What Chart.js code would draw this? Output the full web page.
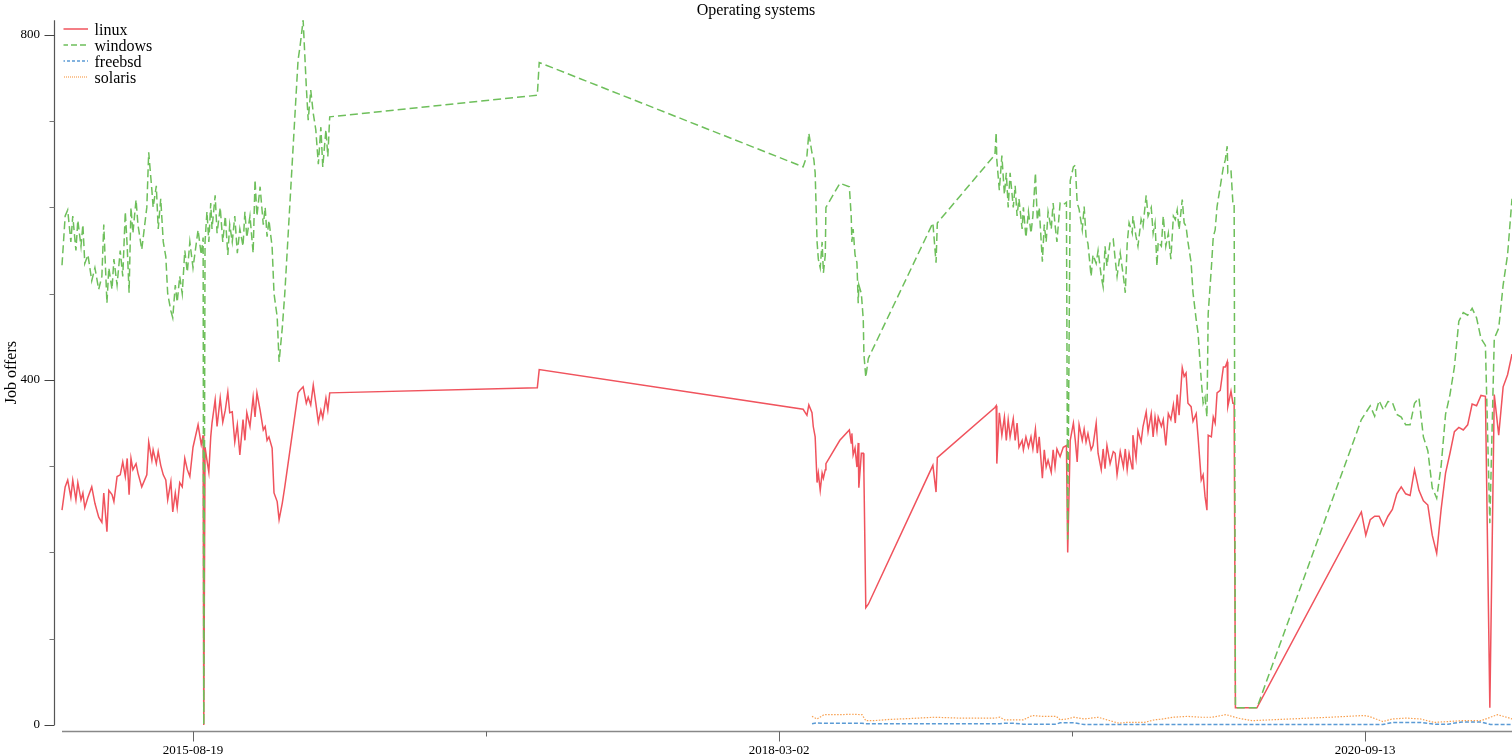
<!DOCTYPE html>
<html>
<head>
<meta charset="utf-8">
<script src="https://cdn.jsdelivr.net/npm/chart.js@4/dist/chart.umd.min.js"></script>
<style>
html,body{margin:0;padding:0;background:#fff;}
#c{display:block;}
</style>
</head>
<body>
<canvas id="c" width="1512" height="756"></canvas>
<script>
// Dates are stored as day offsets from 2015-08-19
const BASE_DATE = Date.UTC(2015, 7, 19);

const days = [
-207,-202,-198,-193,-190,-185,-182,-177,-174,-171,
-166,-160,-155,-149,-144,-141,-136,-133,-128,-125,
-120,-115,-111,-107,-104,-101,-98,-95,-90,-87,
-81,-73,-70,-65,-63,-58,-55,-51,-47,-43,
-40,-35,-32,-28,-25,-21,-17,-13,-9,-5,
0,8,13,16,17,19,22,25,28,30,
35,38,43,47,51,55,58,62,66,70,
74,79,82,85,90,95,98,101,106,111,
114,117,120,125,128,133,136,141,145,166,
169,174,179,182,186,190,194,198,202,205,
210,213,216,544,547,
964,970,973,978,980,981,983,986,988,991,
994,996,999,1000,1022,1037,1040,1041,1043,1046,
1049,1051,1052,1056,1059,1060,1063,1067,1169,1174,
1176,1267,1269,
1270,1274,1278,1282,1285,1288,1291,1296,1299,1302,
1305,1310,1312,1316,1320,1324,1327,1331,1334,1337,
1342,1345,1348,1351,1356,1359,1362,1365,1370,1375,
1380,1382,1386,1391,1394,1397,1400,1405,1408,1411,
1414,1419,1422,1427,1430,1435,1438,1441,1444,1449,
1454,1457,1460,1465,1470,1473,1476,1479,1484,1485,
1490,1493,1498,1501,1506,1509,1514,1517,1520,1523,
1525,1530,1533,1537,1541,1545,1549,1552,1555,1558,
1563,1566,1569,1572,1577,1580,1585,1588,1593,1596,
1599,1602,1604,1609,1612,1615,1618,1623,1628,1631,
1634,1635,1640,1643,1645,1647,1664,1681,
1846,1853,1860,1867,1874,1881,1888,1895,1902,1909,
1916,1923,1930,1937,1944,1951,1958,1965,1972,1979,
1986,1993,2000,2007,2014,2021,2028,2035,2042,2049,
2056,2063,2070,2077,2084
];

const linux = [
249,276,284,264,284,261,281,261,269,252,
264,276,257,241,235,269,224,272,267,259,
288,290,305,288,309,267,309,296,303,292,
276,290,328,307,319,303,317,301,290,284,
261,282,247,269,252,281,276,309,296,288,
322,348,325,336,0,322,307,293,334,350,
377,346,379,351,365,386,362,363,328,348,
313,354,330,362,346,380,357,385,365,342,
346,330,334,321,269,259,238,257,276,385,
388,392,373,380,371,394,373,351,365,356,
379,365,385,391,412,
366,359,371,362,346,346,334,281,292,272,
292,286,296,303,330,342,327,338,313,321,
299,327,275,315,315,292,136,140,301,270,
310,368,370,
303,362,336,357,330,354,334,355,330,350,
322,330,319,334,322,334,320,343,315,334,
286,319,299,307,293,319,299,320,311,322,
324,200,330,350,330,305,348,330,343,328,
338,319,324,350,315,296,320,297,324,303,
317,315,290,317,299,320,296,315,297,336,
309,341,328,346,363,340,361,334,357,341,
357,346,354,324,361,354,371,350,383,359,
414,404,408,373,369,352,361,334,284,290,
265,249,336,334,357,350,385,388,415,415,
421,369,387,373,373,20,20,20,
247,220,238,242,242,231,242,250,268,276,
268,266,296,272,260,255,220,199,250,292,
315,340,345,342,348,372,370,382,381,20,
383,336,392,406,430
];

const windows = [
533,590,597,560,590,550,585,555,580,535,
545,515,530,505,520,580,489,530,505,540,
510,550,520,595,555,501,600,570,609,580,
551,600,664,620,600,625,575,610,560,543,
500,480,472,510,490,520,500,550,525,560,
530,574,545,565,0,560,595,560,605,575,
614,570,600,560,590,545,580,560,590,547,
575,555,595,565,590,547,632,590,624,580,
600,566,585,554,500,473,421,460,500,771,
786,817,740,701,736,709,690,650,693,647,
690,659,705,730,768,
647,660,686,663,659,655,640,560,540,530,
560,524,545,600,628,624,589,560,575,545,
536,489,510,500,470,430,403,425,582,536,
582,661,687,
655,620,660,615,640,600,640,600,625,590,
610,575,600,565,595,570,590,640,585,600,
537,580,560,595,575,605,580,560,605,603,
606,215,631,647,649,605,598,574,601,566,
558,520,545,535,550,520,508,555,532,560,
563,540,520,547,520,501,558,582,570,590,
566,555,586,578,614,590,600,570,582,532,
560,555,590,555,570,540,590,586,597,574,
609,582,578,560,536,501,470,454,400,373,
380,357,477,530,566,574,601,624,647,655,
671,640,643,605,605,20,20,20,
354,362,370,358,376,365,375,374,360,357,
348,348,373,379,334,318,275,263,300,360,
383,415,468,478,475,483,472,448,440,234,
448,460,510,545,610
];

const bsdDays = [
978,986,997,1007,1024,1041,1057,1063,1075,1101,
1133,1171,1212,1267,1275,1282,1297,1312,1326,1342,
1364,1370,1381,1392,1408,1430,1444,1463,1474,1503,
1519,1533,1549,1571,1593,1610,1632,1651,1673,1703,
1749,1797,1850,1858,1880,1895,1917,1939,1961,1983,
2005,2035,2050,2061,2080,2084
];

const freebsd = [
1.5,2.5,2,2,2,2,2,1.5,1.5,1.5,
1.5,1.5,1.5,1.5,1.5,2,2,1,1,1,
1,2.5,2.5,2.5,0.5,0.5,0.5,0.5,0.5,0.5,
0.5,0.5,0.5,0.5,0.5,0.5,0.5,0.5,0.5,0.5,
0.5,0.5,0.5,0.5,0.5,3,3,3,1,1,
3.5,3.5,0.5,0.5,0.5,0.5
];

const solaris = [
10,7,12,12,12,12.5,12,5,5,6.5,
7.5,9,8,8,9,6,6,6,11,10,
10,6,7,9,7,9,6,2,3,3,
6,7,9,10,9,9,12,8,5,6,
7.5,9,11,10,4,7,8,7,3,4,
5,5,9,12,8,7
];

const xTickDays = [0, 463, 926, 1389, 1852];
const xTickLabelled = [true, false, true, false, true];
const yTicks = [0, 100, 200, 300, 400, 500, 600, 700, 800];
const yTickLabels = [0, 400, 800];

function dayToDate(d) {
  return new Date(BASE_DATE + d * 86400000).toISOString().slice(0, 10);
}
function pts(xs, ys) { return xs.map((x, i) => ({x: x, y: ys[i]})); }

// small legend swatch: a line sample drawn with the series' dash pattern
function swatch(color, dash, width) {
  const c = document.createElement('canvas');
  c.width = 26; c.height = 6;
  const g = c.getContext('2d');
  g.strokeStyle = color; g.lineWidth = width; g.setLineDash(dash);
  g.beginPath(); g.moveTo(0, 1); g.lineTo(26, 1); g.stroke();
  return c;
}

const FONT = "'Liberation Serif', 'DejaVu Serif', 'Times New Roman', serif";
Chart.defaults.font.family = FONT;
Chart.defaults.color = '#000';

const offsetAxes = {
  id: 'offsetAxes',
  afterDraw(chart) {
    const {ctx, chartArea: a} = chart;
    const xs = chart.scales.x, ys = chart.scales.y;
    ctx.save();
    const ax = Math.round(a.left - 8) + 0.5;
    ctx.strokeStyle = '#555';
    ctx.lineWidth = 1.2;
    ctx.beginPath(); ctx.moveTo(ax, a.top); ctx.lineTo(ax, ys.getPixelForValue(0)); ctx.stroke();
    ctx.lineWidth = 1;
    ys.ticks.forEach(t => {
      const py = Math.round(ys.getPixelForValue(t.value)) + 0.5;
      const len = yTickLabels.includes(t.value) ? 10 : 5;
      ctx.strokeStyle = yTickLabels.includes(t.value) ? '#444' : '#777';
      ctx.beginPath(); ctx.moveTo(ax - len, py); ctx.lineTo(ax, py); ctx.stroke();
    });
    const ay = Math.round(a.bottom + 6) + 0.5;
    ctx.strokeStyle = '#888';
    ctx.lineWidth = 1.5;
    ctx.beginPath(); ctx.moveTo(a.left, ay); ctx.lineTo(a.right, ay); ctx.stroke();
    ctx.lineWidth = 1;
    xs.ticks.forEach((t, i) => {
      const px = Math.round(xs.getPixelForValue(t.value)) + 0.5;
      const len = xTickLabelled[i] ? 10 : 5;
      ctx.strokeStyle = '#666';
      ctx.beginPath(); ctx.moveTo(px, ay); ctx.lineTo(px, ay + len); ctx.stroke();
    });
    ctx.restore();
  }
};

const legendPlace = {
  id: 'legendPlace',
  afterLayout(chart) {
    const lg = chart.legend;
    if (!lg) return;
    const dy = Math.round(chart.chartArea.top + 3) - lg.top;
    lg.top += dy; lg.bottom += dy;
    const dx = Math.round(chart.chartArea.left) + 1.5 - lg.left;
    lg.left += dx; lg.right += dx;
  }
};

const COLORS = { linux: '#f0535d', windows: '#6ebf5b', freebsd: '#5b9bd5', solaris: '#f8a050' };

new Chart(document.getElementById('c'), {
  type: 'line',
  data: {
    datasets: [
      { label: 'linux', data: pts(days, linux), borderColor: COLORS.linux, backgroundColor: COLORS.linux,
        borderWidth: 1.5, order: 3, pointStyle: swatch(COLORS.linux, [], 1.5) },
      { label: 'windows', data: pts(days, windows), borderColor: COLORS.windows, backgroundColor: COLORS.windows,
        borderWidth: 1.5, borderDash: [8, 4], order: 2, pointStyle: swatch(COLORS.windows, [6, 3], 1.5) },
      { label: 'freebsd', data: pts(bsdDays, freebsd), borderColor: COLORS.freebsd, backgroundColor: COLORS.freebsd,
        borderWidth: 1.5, borderDash: [4, 2], order: 1, pointStyle: swatch(COLORS.freebsd, [3, 2], 1.5) },
      { label: 'solaris', data: pts(bsdDays, solaris), borderColor: COLORS.solaris, backgroundColor: COLORS.solaris,
        borderWidth: 1.2, borderDash: [1.5, 1.5], order: 0, pointStyle: swatch(COLORS.solaris, [1, 1], 1.2) }
    ]
  },
  options: {
    responsive: false,
    animation: false,
    devicePixelRatio: 1,
    layout: { padding: 0 },
    elements: { point: { radius: 0, hoverRadius: 0 }, line: { tension: 0 } },
    datasets: { line: { spanGaps: true, clip: false } },
    plugins: {
      title: {
        display: true, text: 'Operating systems', color: '#000',
        font: { family: FONT, size: 16, weight: 'normal' },
        padding: { top: 1, bottom: 0 }
      },
      legend: {
        display: true, position: 'chartArea', align: 'start',
        labels: {
          usePointStyle: true, pointStyleWidth: 23,
          padding: 0, color: '#000',
          font: { family: FONT, size: 16 },
          sort: (a, b) => a.datasetIndex - b.datasetIndex
        }
      },
      tooltip: { enabled: false }
    },
    scales: {
      x: {
        type: 'linear',
        min: days[0], max: days[days.length - 1],
        grid: { display: false, drawTicks: true, tickLength: 10 },
        border: { display: false },
        afterBuildTicks: (s) => { s.ticks = xTickDays.map(v => ({ value: v })); },
        afterFit: (s) => { s.height = 31; },
        ticks: {
          autoSkip: false, maxRotation: 0, padding: 8, color: '#000',
          font: { family: FONT, size: 13 },
          callback: (v, i) => xTickLabelled[i] ? dayToDate(v) : ''
        }
      },
      y: {
        type: 'linear',
        min: 0, max: Math.max(...windows),
        grid: { display: false, drawTicks: true, tickLength: 10 },
        border: { display: false },
        afterBuildTicks: (s) => { s.ticks = yTicks.map(v => ({ value: v })); },
        afterFit: (s) => { s.width = 62; },
        title: {
          display: true, text: 'Job offers', color: '#000',
          font: { family: FONT, size: 16 },
          padding: { top: 2, bottom: 0 }
        },
        ticks: {
          autoSkip: false, padding: 12, color: '#000',
          font: { family: FONT, size: 13 },
          callback: (v) => yTickLabels.includes(v) ? String(v) : ''
        }
      }
    }
  },
  plugins: [offsetAxes, legendPlace]
});
</script>
</body>
</html>
